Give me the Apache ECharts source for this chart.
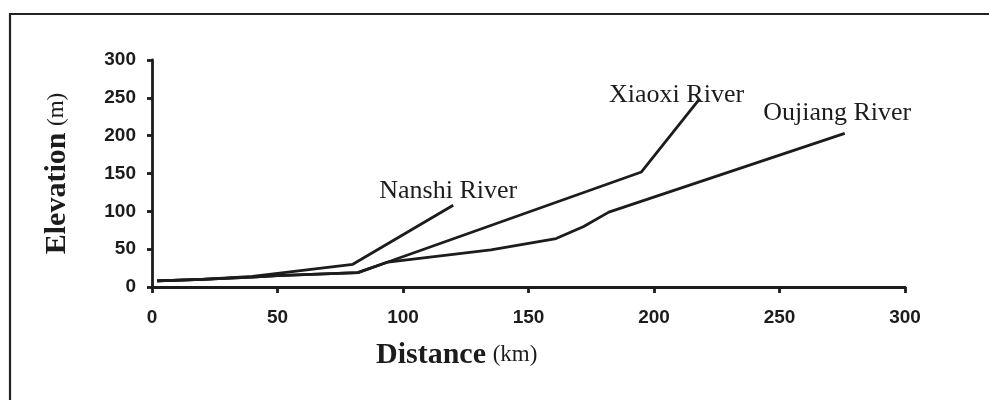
<!DOCTYPE html>
<html>
<head>
<meta charset="utf-8">
<script src="https://cdn.jsdelivr.net/npm/echarts@6/dist/echarts.min.js"></script>
<style>
html,body{margin:0;padding:0;background:#fff;}
#chart{width:989px;height:400px;}
</style>
</head>
<body>
<div id="chart"></div>
<script>
// Data
const xTicks = [0, 50, 100, 150, 200, 250, 300];
const yTicks = [0, 50, 100, 150, 200, 250, 300];

const nanshiDistance = [2, 20, 40, 50, 80, 120];
const nanshiElevation = [8, 10, 14, 18, 30, 108];

const xiaoxiDistance = [2, 20, 40, 50, 82, 94, 195, 218];
const xiaoxiElevation = [8, 10, 13, 15, 19, 33, 152, 248];

const oujiangDistance = [2, 20, 40, 50, 82, 94, 135, 161, 172, 182, 276];
const oujiangElevation = [8, 10, 13, 15, 19, 33, 49, 64, 80, 99, 203];

const seriesNames = ['Nanshi River', 'Xiaoxi River', 'Oujiang River'];

function pairs(xs, ys) { return xs.map((x, i) => [x, ys[i]]); }

const ink = '#1c1c1c';
const chart = echarts.init(document.getElementById('chart'));

function riverSeries(name, xs, ys, labelCoord) {
  return {
    name: name,
    type: 'line',
    data: pairs(xs, ys),
    symbol: 'none',
    lineStyle: { color: ink, width: 2.8 },
    z: 3,
    markPoint: {
      symbol: 'circle',
      symbolSize: 0,
      data: [{ coord: labelCoord }],
      label: {
        show: true,
        formatter: name,
        color: ink,
        fontFamily: 'Liberation Serif',
        fontSize: 26,
        position: 'inside'
      }
    }
  };
}

chart.setOption({
  animation: false,
  backgroundColor: '#fff',
  grid: { left: 152, right: 84, top: 60, bottom: 113 },
  xAxis: {
    type: 'value',
    min: xTicks[0],
    max: xTicks[xTicks.length - 1],
    interval: 50,
    splitLine: { show: false },
    axisLine: { show: true, onZero: false, lineStyle: { color: ink, width: 2.8 } },
    axisTick: { show: true, inside: false, length: 6, lineStyle: { color: ink, width: 2.8 } },
    axisLabel: {
      color: ink, fontFamily: 'Liberation Sans', fontWeight: 'bold', fontSize: 19, margin: 21,
      formatter: v => xTicks.includes(v) ? String(v) : ''
    }
  },
  yAxis: {
    type: 'value',
    min: yTicks[0],
    max: yTicks[yTicks.length - 1],
    interval: 50,
    splitLine: { show: false },
    axisLine: { show: true, lineStyle: { color: ink, width: 2.8 } },
    axisTick: { show: true, inside: false, length: 5, lineStyle: { color: ink, width: 2.8 } },
    axisLabel: {
      color: ink, fontFamily: 'Liberation Sans', fontWeight: 'bold', fontSize: 19, margin: 16,
      formatter: v => yTicks.includes(v) ? String(v) : ''
    },
    name: '{b|Elevation}  {n|(m)}',
    nameLocation: 'middle',
    nameRotate: 90,
    nameGap: 80,
    nameTextStyle: {
      rich: {
        b: { fontFamily: 'Liberation Serif', fontWeight: 'bold', fontSize: 30, color: ink },
        n: { fontFamily: 'Liberation Serif', fontSize: 23, color: ink }
      }
    }
  },
  graphic: [
    { type: 'line', shape: { x1: 9, y1: 14, x2: 989, y2: 14 }, style: { stroke: '#222', lineWidth: 2.2 } },
    { type: 'line', shape: { x1: 10, y1: 13, x2: 10, y2: 400 }, style: { stroke: '#222', lineWidth: 2.2 } },
    {
      type: 'text', left: 376, top: 340,
      style: {
        text: '{b|Distance}  {n|(km)}',
        rich: {
          b: { fontFamily: 'Liberation Serif', fontWeight: 'bold', fontSize: 30, fill: ink },
          n: { fontFamily: 'Liberation Serif', fontSize: 23, fill: ink }
        }
      }
    }
  ],
  series: [
    riverSeries(seriesNames[0], nanshiDistance, nanshiElevation, [118, 126]),
    riverSeries(seriesNames[1], xiaoxiDistance, xiaoxiElevation, [209, 253]),
    riverSeries(seriesNames[2], oujiangDistance, oujiangElevation, [273, 230])
  ]
});
</script>
</body>
</html>
